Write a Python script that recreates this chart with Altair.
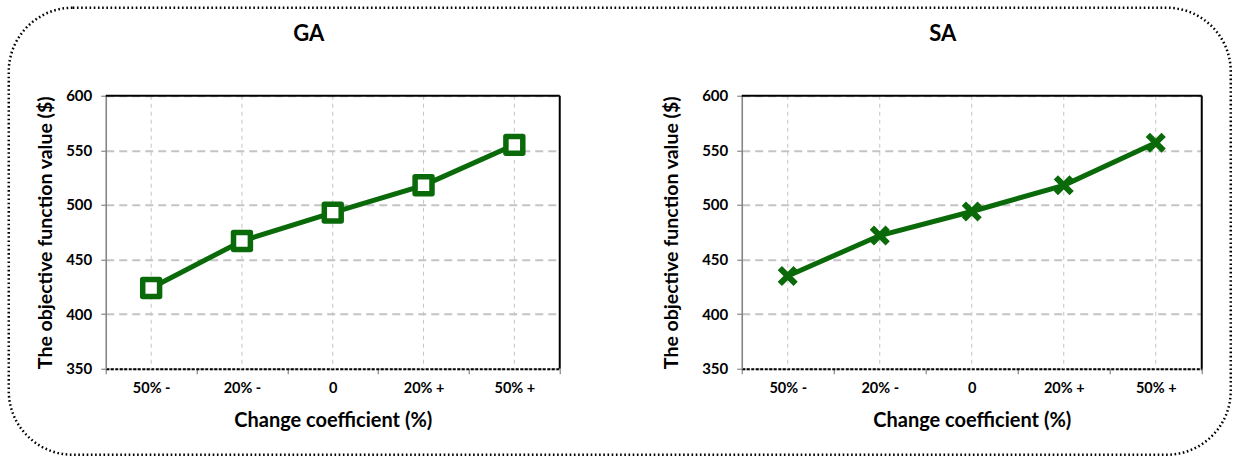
import altair as alt
import pandas as pd

# Sensitivity of the objective function to the change coefficient
categories = ["50% -", "20% -", "0", "20% +", "50% +"]
ga_values = [424, 467, 493, 518, 555]
sa_values = [435, 472, 494, 518, 557]
y_ticks = [350, 400, 450, 500, 550, 600]

GREEN = "#0a6a0a"
FONT = "Lato"
AXIS_GRAY = "#868686"
GRID_GRAY = "#c4c4c4"
H = 273
one_row = alt.Data(values=[{"k": 0}])


def panel(values, title, width, marker, y_title_x, title_dx, with_border=False):
    df = pd.DataFrame({"cat": categories, "value": values})

    x = alt.X(
        "cat:N",
        sort=categories,
        scale=alt.Scale(type="band", paddingInner=0, paddingOuter=0),
        title="Change coefficient (%)",
        axis=alt.Axis(
            tickBand="extent",
            grid=False,
            labelAngle=0,
            domainColor="black",
            domainDash=[3, 1.5],
            domainWidth=2,
            tickColor=AXIS_GRAY,
            tickSize=5,
            tickWidth=1.2,
            labelFont=FONT,
            labelFontWeight="bold",
            labelFontSize=14.5,
            labelColor="black",
            labelPadding=8,
            titleFont=FONT,
            titleFontWeight="bold",
            titleFontSize=20,
            titleColor="black",
            titlePadding=15,
        ),
    )
    y = alt.Y(
        "value:Q",
        scale=alt.Scale(domain=[350, 600], nice=False, zero=False),
        title="The objective function value ($)",
        axis=alt.Axis(
            values=y_ticks,
            grid=True,
            gridColor=GRID_GRAY,
            gridDash=[8, 5],
            gridWidth=2,
            domainColor=AXIS_GRAY,
            domainWidth=1.6,
            tickColor=AXIS_GRAY,
            tickSize=5,
            tickWidth=1.2,
            labelFont=FONT,
            labelFontWeight="bold",
            labelFontSize=15,
            labelColor="black",
            labelPadding=9,
            titleFont=FONT,
            titleFontWeight="bold",
            titleFontSize=19.5,
            titleColor="black",
            titleX=y_title_x,
        ),
    )

    base = alt.Chart(df)
    xgrid = base.mark_rule(color=GRID_GRAY, strokeWidth=1, strokeDash=[4, 4]).encode(x=x)
    top = alt.Chart(one_row).mark_rule(color="black", strokeWidth=2).encode(
        x=alt.value(0), x2=alt.value(width), y=alt.value(0)
    )
    right = alt.Chart(one_row).mark_rule(color="black", strokeWidth=2).encode(
        x=alt.value(width), y=alt.value(0), y2=alt.value(H)
    )
    heading = alt.Chart(one_row).mark_text(
        font=FONT, fontSize=22, fontWeight="bold", color="black", baseline="middle"
    ).encode(
        text=alt.value(title), x=alt.value(width / 2 + title_dx), y=alt.value(-62)
    )
    line = base.mark_line(color=GREEN, strokeWidth=5).encode(x=x, y=y)
    pts = base.mark_point(opacity=1, **marker).encode(x=x, y=y)

    layers = [xgrid, top, right, heading, line, pts]
    if with_border:
        border = alt.Chart(one_row).mark_rect(
            cornerRadius=64,
            fillOpacity=0,
            stroke="black",
            strokeWidth=2.5,
            strokeDash=[1.6, 2.6],
        ).encode(
            x=alt.value(-97), x2=alt.value(1125), y=alt.value(-88), y2=alt.value(359)
        )
        layers = [border] + layers

    return alt.layer(*layers).properties(width=width, height=H)


ga_marker = dict(shape="square", size=285, filled=False, fill="white", fillOpacity=1,
                 stroke=GREEN, strokeWidth=5.5, strokeJoin="round")
sa_marker = dict(shape="M-1,-1L1,1M1,-1L-1,1", size=250, filled=False,
                 stroke=GREEN, strokeWidth=6)

left = panel(ga_values, "GA", 454, ga_marker, -50, -24, with_border=True)
right = panel(sa_values, "SA", 460, sa_marker, -60, -29)

chart = (
    alt.hconcat(left, right, spacing=182, bounds="flush")
    .properties(
        autosize=alt.AutoSizeParams(type="pad"),
        padding={"left": 6.75, "top": 5.75, "right": 0, "bottom": 0},
        background="white",
    )
    .configure_view(stroke=None)
)

chart.save("out.html", embed_options={"renderer": "svg", "actions": False})
